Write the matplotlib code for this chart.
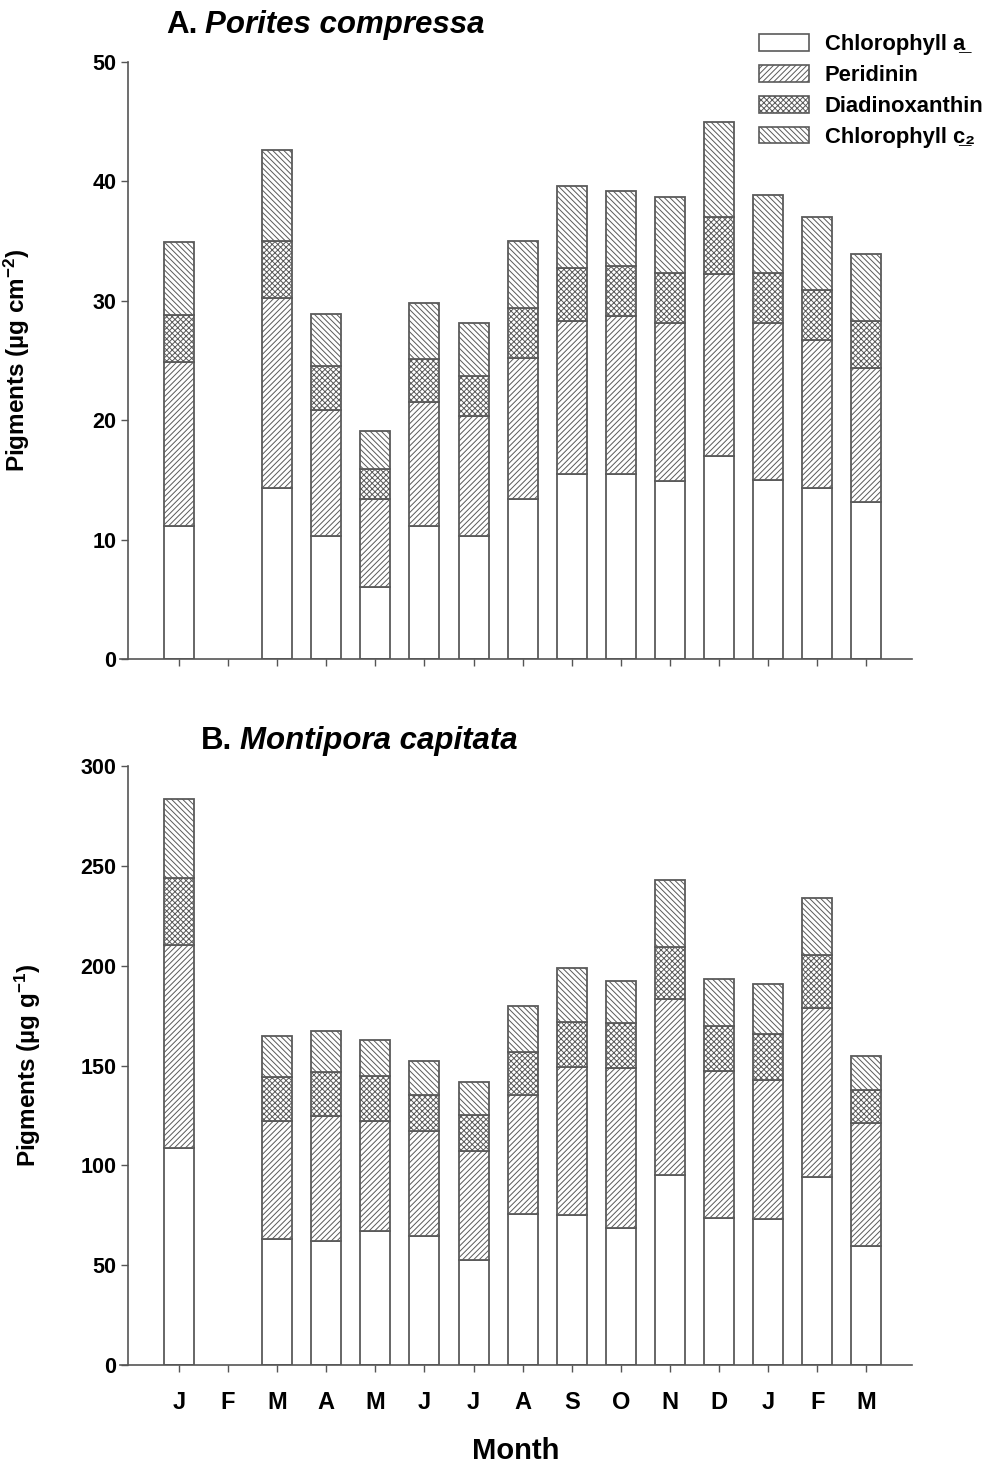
import numpy as np
import matplotlib
matplotlib.use("Agg")
import matplotlib.pyplot as plt
from matplotlib.patches import Patch

plt.rcParams["font.family"] = ["Liberation Sans", "DejaVu Sans"]
plt.rcParams["font.weight"] = "bold"
plt.rcParams["mathtext.fontset"] = "custom"
plt.rcParams["mathtext.rm"] = "Liberation Sans:bold"
plt.rcParams["mathtext.bf"] = "Liberation Sans:bold"
plt.rcParams["mathtext.it"] = "Liberation Sans:bold:italic"
plt.rcParams["hatch.linewidth"] = 0.7

months = ["J", "F", "M", "A", "M", "J", "J", "A", "S", "O", "N", "D", "J", "F", "M"]
nan = np.nan

# Porites compressa (ug cm-2), February missing
pc_chla = [11.2, nan, 14.3, 10.3, 6.1, 11.2, 10.3, 13.4, 15.5, 15.5, 14.9, 17.0, 15.0, 14.3, 13.2]
pc_peri = [13.7, nan, 15.9, 10.6, 7.3, 10.3, 10.1, 11.8, 12.8, 13.2, 13.2, 15.2, 13.1, 12.4, 11.2]
pc_diad = [3.9, nan, 4.8, 3.6, 2.5, 3.6, 3.3, 4.2, 4.4, 4.2, 4.2, 4.8, 4.2, 4.2, 3.9]
pc_chlc = [6.1, nan, 7.6, 4.4, 3.2, 4.7, 4.4, 5.6, 6.9, 6.3, 6.4, 7.9, 6.5, 6.1, 5.6]

# Montipora capitata (ug g-1)
mc_chla = [108.9, nan, 63.2, 62.2, 67.2, 64.7, 52.6, 75.5, 75.2, 68.5, 95.2, 73.8, 73.0, 94.4, 59.6]
mc_peri = [101.6, nan, 59.1, 62.6, 54.8, 52.6, 54.7, 59.8, 74.0, 80.2, 88.1, 73.2, 69.9, 84.4, 61.6]
mc_diad = [33.5, nan, 21.7, 21.9, 22.5, 18.0, 18.0, 21.7, 22.4, 22.6, 25.9, 22.9, 22.9, 26.7, 16.3]
mc_chlc = [39.6, nan, 20.6, 20.4, 18.4, 17.1, 16.2, 22.9, 27.2, 21.2, 33.9, 23.4, 25.2, 28.4, 17.4]

pigment_names = ["Chlorophyll a\u0332", "Peridinin", "Diadinoxanthin", "Chlorophyll c\u0332\u2082"]
hatches = ["", "//////", "xxxxxx", "\\\\\\\\\\\\"]
edge = "#5a5a5a"


def stacked(ax, series):
    x = np.arange(len(months))
    bottom = np.zeros(len(months))
    for vals, h in zip(series, hatches):
        vals = np.array(vals, dtype=float)
        ok = ~np.isnan(vals)
        ax.bar(x[ok], vals[ok], bottom=bottom[ok], width=0.61, color="white",
               edgecolor=edge, hatch=h, linewidth=1.3, zorder=2)
        bottom = bottom + np.nan_to_num(vals)
    ax.set_xlim(-1.2, 14.93)
    ax.set_xticks(x)
    for s in ["top", "right"]:
        ax.spines[s].set_visible(False)
    ax.spines["left"].set_position(("axes", 8 / 792))
    for s in ["left", "bottom"]:
        ax.spines[s].set_color("#555555")
        ax.spines[s].set_linewidth(1.2)
    ax.tick_params(direction="out", length=5, width=1, color="#555555",
                   labelsize=15.5)


fig = plt.figure(figsize=(9.9, 14.69), dpi=100)
W, H = 990, 1469
axA = fig.add_axes([120 / W, 1 - 659.5 / H, 792 / W, 598 / H])
axB = fig.add_axes([120 / W, 1 - 1365 / H, 792 / W, 599 / H])

stacked(axA, [pc_chla, pc_peri, pc_diad, pc_chlc])
axA.set_ylim(0, 50)
axA.set_yticks(range(0, 51, 10))
axA.set_xticklabels([])
axA.set_ylabel("Pigments (\u00b5g cm$^{-2}$)", fontsize=17.5, fontweight="bold")
axA.yaxis.set_label_coords(-0.111, 0.5)

stacked(axB, [mc_chla, mc_peri, mc_diad, mc_chlc])
axB.set_ylim(0, 300)
axB.set_yticks(range(0, 301, 50))
axB.set_xticklabels(months, fontsize=17)
axB.tick_params(axis="x", pad=14)
axB.set_ylabel("Pigments (\u00b5g g$^{-1}$)", fontsize=17.5, fontweight="bold")
axB.yaxis.set_label_coords(-0.097, 0.5)
axB.set_xlabel("Month", fontsize=21, fontweight="bold", labelpad=16)

# panel titles: bold letter + bold italic species
fig.canvas.draw()
for (x0, y0, letter, species) in [(166, 25, "A.", "Porites compressa"),
                                  (201, 741, "B.", "Montipora capitata")]:
    t = fig.text(x0 / W, 1 - y0 / H, letter, fontsize=22.5, fontweight="bold",
                 va="center", ha="left")
    bb = t.get_window_extent(renderer=fig.canvas.get_renderer())
    fig.text((bb.x1 + 8) / W, 1 - y0 / H, species, fontsize=22.5,
             fontweight="bold", style="italic", va="center", ha="left")

handles = [Patch(facecolor="white", edgecolor=edge, hatch=h, linewidth=1.2,
                 label=n) for h, n in zip(hatches, pigment_names)]
fig.legend(handles=handles, loc="upper left", bbox_to_anchor=(759 / W, 1 - 34 / H),
           frameon=False, handlelength=2.3, handleheight=0.8,
           labelspacing=0.45, handletextpad=0.7, borderaxespad=0, borderpad=0,
           prop={"weight": "bold", "size": 15.8})

fig.savefig("out.png", dpi=100)
